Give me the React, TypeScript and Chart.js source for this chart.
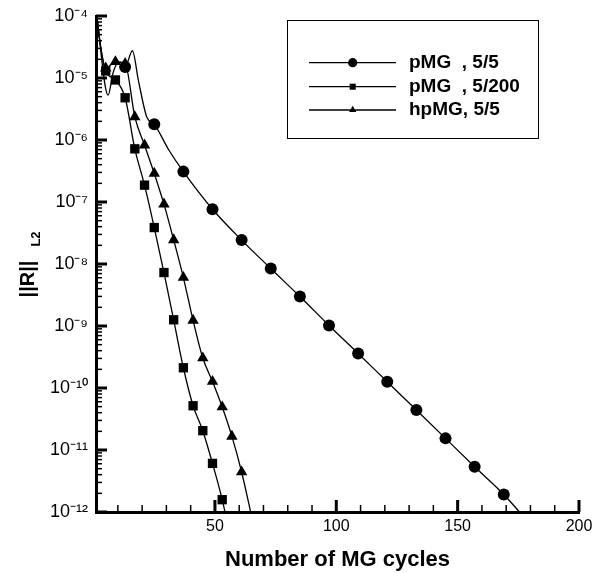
import React, { useEffect, useRef } from 'react';
import { Chart, registerables } from 'chart.js';

Chart.register(...registerables);

const FONT = '"Liberation Sans", Arial, Helvetica, sans-serif';

// Series 1: pMG , 5/5 (circles)
const pmg55X = [1, 6, 8, 10, 13, 16, 18.5, 22, 25, 31, 37, 49, 61, 73, 85, 97, 109, 121, 133, 145, 157, 169, 176];
const pmg55Y = [1.3e-4, 5.3e-6, 1.2e-5, 1.7e-5, 1.5e-5, 2.75e-5, 9e-6, 2.3e-6, 1.79e-6, 6.9e-7, 3.09e-7, 7.65e-8, 2.43e-8, 8.45e-9, 2.99e-9, 1.02e-9, 3.6e-10, 1.26e-10, 4.41e-11, 1.54e-11, 5.37e-12, 1.92e-12, 9.5e-13];
const pmg55Markers = [13, 25, 37, 49, 61, 73, 85, 97, 109, 121, 133, 145, 157, 169];

// Series 2: pMG , 5/200 (squares)
const pmg5200X = [1, 3, 5, 9, 13, 17, 21, 25, 29, 33, 37, 41, 45, 49, 53, 55];
const pmg5200Y = [1.3e-4, 3e-5, 1.3e-5, 9.3e-6, 4.8e-6, 7.2e-7, 1.87e-7, 3.87e-8, 7.28e-9, 1.26e-9, 2.12e-10, 5.17e-11, 2.05e-11, 6.08e-12, 1.58e-12, 7e-13];
const pmg5200Markers = [5, 9, 13, 17, 21, 25, 29, 33, 37, 41, 45, 49, 53];

// Series 3: hpMG, 5/5 (triangles)
const hpmg55X = [1, 3, 5, 9, 13, 17, 21, 25, 29, 33, 37, 41, 45, 49, 53, 57, 61, 65];
const hpmg55Y = [1.3e-4, 3e-5, 1.44e-5, 1.83e-5, 1.7e-5, 2.36e-6, 8.24e-7, 2.89e-7, 9.22e-8, 2.45e-8, 6.05e-9, 1.23e-9, 3.04e-10, 1.27e-10, 4.93e-11, 1.66e-11, 4.42e-12, 8.9e-13];
const hpmg55Markers = [5, 9, 13, 17, 21, 25, 29, 33, 37, 41, 45, 49, 53, 57, 61];

const seriesLabels = ['pMG  , 5/5', 'pMG  , 5/200', 'hpMG, 5/5'];
const xTickValues = [50, 100, 150, 200];
const yDecades = [-12, -11, -10, -9, -8, -7, -6, -5, -4];
const xTitle = 'Number of MG cycles';
const yTitle = '||R||';
const yTitleSub = 'L2';

const SUP: Record<string, string> = {
  '-': '\u207B', '0': '\u2070', '1': '\u00B9', '2': '\u00B2', '3': '\u00B3',
  '4': '\u2074', '5': '\u2075', '6': '\u2076', '7': '\u2077', '8': '\u2078', '9': '\u2079',
};
const sup = (s: string) => s.split('').map((c) => SUP[c] ?? c).join('');

function toPoints(xs: number[], ys: number[]) {
  return xs.map((x, i) => ({ x, y: ys[i] }));
}

function drawMarker(ctx: CanvasRenderingContext2D, style: string, x: number, y: number, r: number) {
  ctx.beginPath();
  if (style === 'circle') {
    ctx.arc(x, y, r, 0, Math.PI * 2);
  } else if (style === 'rect') {
    const s = r * Math.SQRT2;
    ctx.rect(x - s / 2, y - s / 2, s, s);
  } else {
    for (let k = 0; k < 3; k++) {
      const a = (k * 2 * Math.PI) / 3;
      const px = x + Math.sin(a) * r;
      const py = y - Math.cos(a) * r;
      if (k === 0) ctx.moveTo(px, py);
      else ctx.lineTo(px, py);
    }
    ctx.closePath();
  }
  ctx.fill();
}

const decorPlugin = {
  id: 'decor',
  afterDatasetsDraw(chart: any) {
    const ctx: CanvasRenderingContext2D = chart.ctx;
    const xs = chart.scales.x;
    const ys = chart.scales.y;
    const { left, bottom } = chart.chartArea;
    ctx.save();
    ctx.strokeStyle = '#000';
    ctx.fillStyle = '#000';
    // y ticks (inward)
    for (const e of yDecades) {
      for (let m = 1; m <= 9; m++) {
        const v = m * Math.pow(10, e);
        if (v > 1.0001e-4) break;
        const py = ys.getPixelForValue(v);
        const major = m === 1;
        ctx.lineWidth = major ? 3 : 1.5;
        ctx.beginPath();
        ctx.moveTo(left, py);
        ctx.lineTo(left + (major ? 11 : 6), py);
        ctx.stroke();
      }
    }
    // x ticks (inward)
    for (let v = 10; v <= 200; v += 10) {
      const px = xs.getPixelForValue(v);
      const major = v % 50 === 0;
      ctx.lineWidth = major ? 3 : 1.5;
      ctx.beginPath();
      ctx.moveTo(px, bottom);
      ctx.lineTo(px, bottom - (major ? 12 : 7));
      ctx.stroke();
    }
    ctx.restore();
  },
  afterDraw(chart: any) {
    const ctx: CanvasRenderingContext2D = chart.ctx;
    ctx.save();
    // legend box
    ctx.strokeStyle = '#000';
    ctx.lineWidth = 1;
    ctx.strokeRect(287.5, 20.5, 251, 118);
    const rows = [62.7, 86.7, 110];
    const styles = ['circle', 'rect', 'triangle'];
    const radii = [4.6, 4.3, 4.2];
    ctx.fillStyle = '#000';
    ctx.font = `bold 19px ${FONT}`;
    ctx.textBaseline = 'middle';
    ctx.textAlign = 'left';
    rows.forEach((ry, i) => {
      ctx.lineWidth = 1.3;
      ctx.beginPath();
      ctx.moveTo(309, ry);
      ctx.lineTo(396, ry);
      ctx.stroke();
      drawMarker(ctx, styles[i], 352.7, ry, radii[i]);
      ctx.fillText(chart.data.datasets[i].label, 409, ry);
    });
    // y title
    ctx.translate(28, 279);
    ctx.rotate(-Math.PI / 2);
    ctx.textAlign = 'center';
    ctx.font = `bold 20px ${FONT}`;
    ctx.fillText(yTitle, 0, 0);
    ctx.font = `bold 13px ${FONT}`;
    ctx.fillText(yTitleSub, 40, 8);
    ctx.restore();
  },
};

export default function App() {
  const ref = useRef<HTMLCanvasElement | null>(null);
  useEffect(() => {
    if (!ref.current) return;
    const mk = (label: string, xs: number[], ys: number[], markers: number[], style: string, r: number) => {
      const set = new Set(markers);
      return {
        label,
        data: toPoints(xs, ys),
        borderColor: '#000',
        backgroundColor: '#000',
        borderWidth: 1.3,
        pointStyle: style,
        pointBackgroundColor: '#000',
        pointBorderColor: '#000',
        pointBorderWidth: 0,
        pointRadius: (c: any) => (c.raw && set.has(c.raw.x) ? r : 0),
        pointHoverRadius: 0,
        cubicInterpolationMode: 'monotone',
        fill: false,
      };
    };
    const chart = new Chart(ref.current, {
      type: 'line',
      data: {
        datasets: [
          mk(seriesLabels[0], pmg55X, pmg55Y, pmg55Markers, 'circle', 6),
          mk(seriesLabels[1], pmg5200X, pmg5200Y, pmg5200Markers, 'rect', 6.6),
          mk(seriesLabels[2], hpmg55X, hpmg55Y, hpmg55Markers, 'triangle', 6.6),
        ] as any,
      },
      options: {
        responsive: false,
        animation: false,
        events: [],
        layout: { padding: { top: 16, right: 26, left: 0, bottom: 0 } },
        plugins: { legend: { display: false }, tooltip: { enabled: false } },
        scales: {
          x: {
            type: 'linear',
            min: 1,
            max: 200,
            grid: { display: true, drawOnChartArea: false, drawTicks: false },
            border: { display: true, color: '#000', width: 3 },
            ticks: {
              color: '#000',
              font: { family: FONT, size: 16 },
              padding: 5,
              maxRotation: 0,
              autoSkip: false,
              callback: (v: any) => String(v),
            },
            afterBuildTicks: (s: any) => {
              s.ticks = xTickValues.map((v) => ({ value: v }));
            },
            afterFit: (s: any) => {
              s.height = 61;
              s.paddingLeft = 0;
              s.paddingRight = 0;
            },
            title: {
              display: true,
              text: xTitle,
              color: '#000',
              font: { family: FONT, size: 22, weight: 'bold' },
              padding: { top: 0, bottom: 0 },
            },
          },
          y: {
            type: 'logarithmic',
            min: 1e-12,
            max: 1e-4,
            grid: { display: true, drawOnChartArea: false, drawTicks: false },
            border: { display: true, color: '#000', width: 3 },
            ticks: {
              color: '#000',
              font: { family: FONT, size: 18 },
              padding: 8,
              autoSkip: false,
              callback: (v: any) => {
                const e = Math.round(Math.log10(Number(v)));
                return '10' + sup(String(e));
              },
            },
            afterBuildTicks: (s: any) => {
              s.ticks = yDecades.map((e) => ({ value: Math.pow(10, e) }));
            },
            afterFit: (s: any) => {
              s.width = 96;
              s.paddingTop = 0;
              s.paddingBottom = 0;
            },
          },
        },
      } as any,
      plugins: [decorPlugin],
    });
    return () => chart.destroy();
  }, []);
  return (
    <div style={{ position: 'absolute', left: 0, top: 0, width: 605, height: 573, background: '#fff' }}>
      <canvas ref={ref} width={605} height={573} />
    </div>
  );
}
